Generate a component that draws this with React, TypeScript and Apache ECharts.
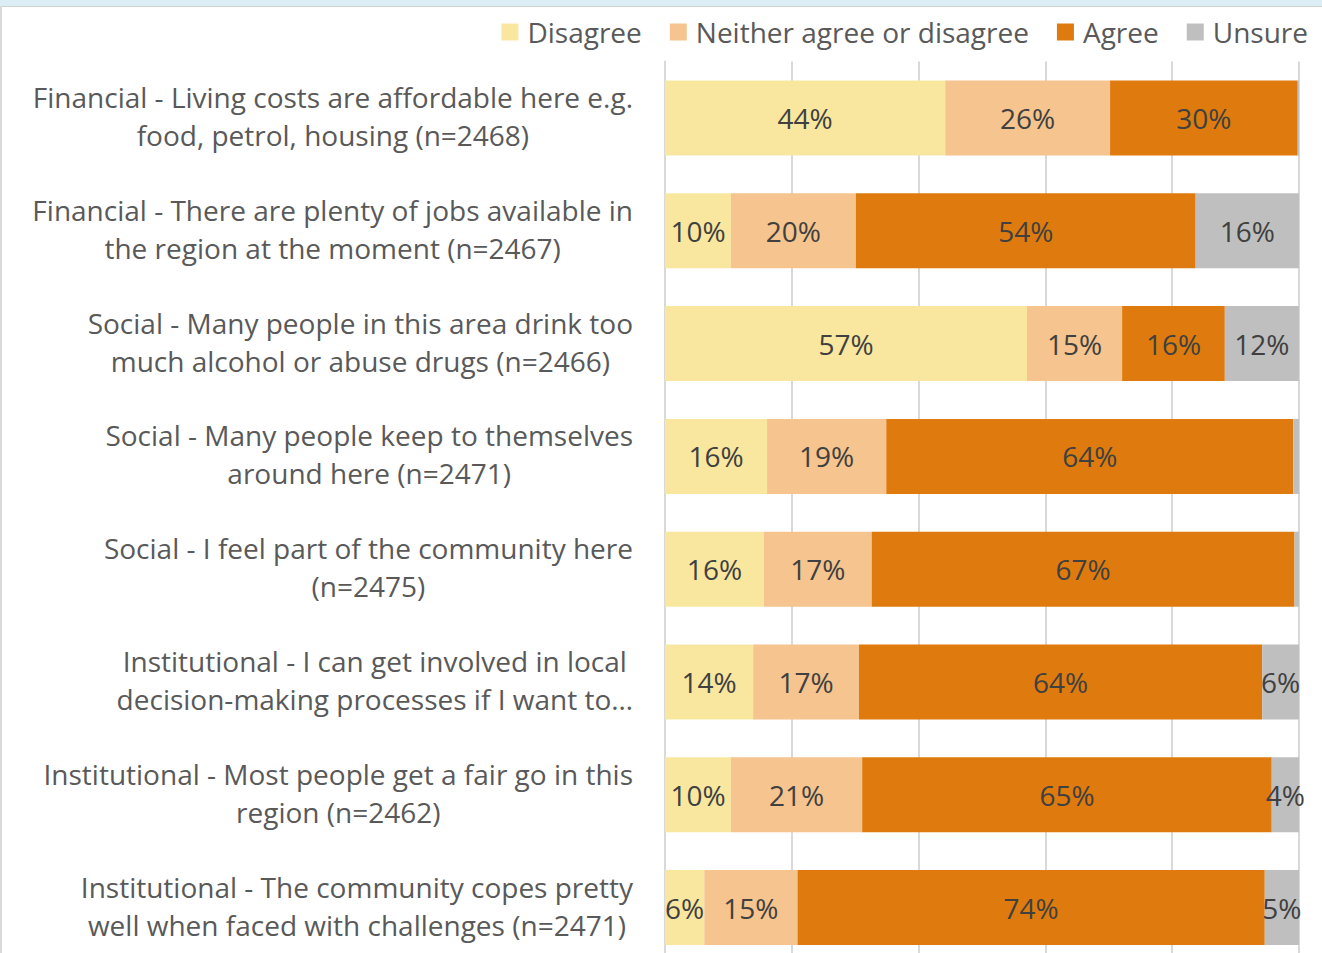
import React, { useEffect, useRef } from "react";
import * as echarts from "echarts";

const categories: string[] = [
  "Financial - Living costs are affordable here e.g.\nfood, petrol, housing (n=2468)",
  "Financial - There are plenty of jobs available in\nthe region at the moment (n=2467)",
  "Social - Many people in this area drink too\nmuch alcohol or abuse drugs (n=2466)",
  "Social - Many people keep to themselves\naround here (n=2471)",
  "Social - I feel part of the community here\n(n=2475)",
  "Institutional - I can get involved in local\ndecision-making processes if I want to…",
  "Institutional - Most people get a fair go in this\nregion (n=2462)",
  "Institutional - The community copes pretty\nwell when faced with challenges (n=2471)",
];

const seriesNames: string[] = ["Disagree", "Neither agree or disagree", "Agree", "Unsure"];
const disagree: number[] = [44.2, 10.4, 57.1, 16.1, 15.6, 13.9, 10.4, 6.2];
const neither: number[] = [26.0, 19.7, 15.0, 18.8, 17.0, 16.7, 20.7, 14.7];
const agree: number[] = [29.6, 53.6, 16.2, 64.2, 66.7, 63.6, 64.6, 73.7];
const unsure: number[] = [0.2, 16.3, 11.7, 0.9, 0.7, 5.8, 4.3, 5.4];
const colors: string[] = ["#F9E7A0", "#F6C48E", "#DF7B0E", "#BFBFBF"];

const FONT = "Open Sans";

export default function App() {
  const ref = useRef<HTMLDivElement>(null);
  useEffect(() => {
    document.body.style.margin = "0";
    document.body.style.overflow = "hidden";
    const chart = echarts.init(ref.current!, undefined, { renderer: "svg" });
    const values = [disagree, neither, agree, unsure];
    chart.setOption({
      animation: false,
      backgroundColor: "#ffffff",
      textStyle: { fontFamily: FONT },
      legend: {
        data: seriesNames,
        right: 9,
        top: 13,
        itemWidth: 17,
        itemHeight: 17,
        itemGap: 28,
        icon: "rect",
        textStyle: { fontSize: 28, color: "#595959", fontFamily: FONT, padding: [0, 0, 0, 4] },
      },
      grid: { left: 665, right: 23, top: 61.6, bottom: 0 },
      xAxis: {
        type: "value",
        min: 0,
        max: 100,
        interval: 20,
        axisLabel: { show: false },
        axisTick: { show: false },
        axisLine: { show: false },
        splitLine: { lineStyle: { color: "#D9D9D9", width: 2 } },
      },
      yAxis: {
        type: "category",
        inverse: true,
        data: categories,
        axisTick: { show: false },
        axisLine: { show: true, lineStyle: { color: "#D9D9D9", width: 2 } },
        axisLabel: {
          margin: 32,
          formatter: (v: string) =>
            v
              .split("\n")
              .map((l) => `{c|${l}}`)
              .join("\n"),
          rich: {
            c: { align: "center", fontSize: 28, lineHeight: 38, color: "#595959", fontFamily: FONT, padding: [0, 0, 4, 0] },
          },
        },
      },
      series: seriesNames.map((name, i) => ({
        name,
        type: "bar",
        stack: "total",
        barWidth: 75,
        data: values[i],
        itemStyle: { color: colors[i] },
        label: {
          show: true,
          position: "inside",
          fontSize: 28,
          color: "#404040",
          fontFamily: FONT,
          formatter: (p: any) => (p.value < 3 ? "" : Math.round(p.value) + "%"),
        },
      })),
      graphic: [
        { type: "rect", left: 0, top: 0, shape: { width: 1322, height: 6 }, style: { fill: "#DCEEF5" } },
        { type: "rect", left: 0, top: 6, shape: { width: 1322, height: 1 }, style: { fill: "#D0D0D0" } },
        { type: "rect", left: 0, top: 6, shape: { width: 2, height: 960 }, style: { fill: "#D9D9D9" } },
      ],
    });
    return () => chart.dispose();
  }, []);
  return <div ref={ref} style={{ width: 1322, height: 964 }} />;
}
